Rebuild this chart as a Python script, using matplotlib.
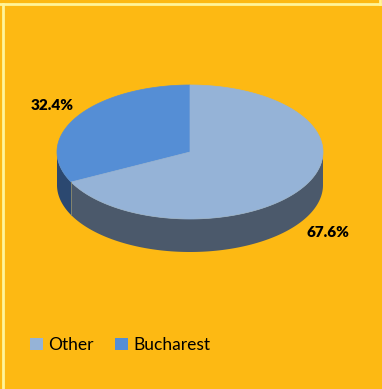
"""3D-style pie: share of Other vs Bucharest."""

import numpy as np
import matplotlib.pyplot as plt
from matplotlib.patches import Polygon, Patch
from matplotlib.lines import Line2D

categories = ["Other", "Bucharest"]
shares = [67.6, 32.4]
labels = ["67.6%", "32.4%"]

TOP_COLORS = {"Other": "#95B3D7", "Bucharest": "#558ED5"}
SIDE_COLORS = {"Other": "#4B596B", "Bucharest": "#2B4870"}
BG = "#FDB913"


def ellipse_pts(t1, t2, cx, cy, a, b, dy=0.0, n=200):
    t = np.linspace(t1, t2, n)
    return np.column_stack([cx + a * np.cos(t), cy - b * np.sin(t) + dy])


def main() -> None:
    W, H = 382, 389
    fig = plt.figure(figsize=(W / 100, H / 100), dpi=100, facecolor=BG)
    ax = fig.add_axes([0, 0, 1, 1])
    ax.set_xlim(0, W)
    ax.set_ylim(H, 0)
    ax.axis("off")

    # pale frame lines
    ax.add_line(Line2D([0, 380], [3.5, 3.5], color="#FFF59A", lw=2))
    ax.add_line(Line2D([380, 380], [0, 3.5], color="#FFF59A", lw=2))
    ax.add_line(Line2D([2.5, 2.5], [3.5, H], color="#FFF59A", lw=2))

    cx, cy, a, b, depth = 190, 152, 133, 67, 33

    # Bucharest starts at 12 o'clock and runs counter-clockwise
    start = np.pi / 2
    spans = {}
    order = ["Bucharest", "Other"]
    vals = dict(zip(categories, shares))
    total = sum(shares)
    for cat in order:
        ext = 2 * np.pi * vals[cat] / total
        spans[cat] = (start, start + ext)
        start += ext

    # side walls (only the front half is visible: pi..2pi)
    for cat in order:
        t1, t2 = spans[cat]
        lo, hi = max(t1, np.pi), min(t2, 2 * np.pi)
        if hi <= lo:
            continue
        top = ellipse_pts(lo, hi, cx, cy, a, b)
        bot = ellipse_pts(hi, lo, cx, cy, a, b, dy=depth)
        ax.add_patch(Polygon(np.vstack([top, bot]), closed=True,
                             facecolor=SIDE_COLORS[cat], edgecolor="none"))
    # thin seam between side segments
    t_seam = spans["Bucharest"][1]
    xs = cx + a * np.cos(t_seam)
    ys = cy - b * np.sin(t_seam)
    ax.add_line(Line2D([xs, xs], [ys, ys + depth], color="#8A8A70", lw=0.6))

    # top faces
    for cat in order:
        t1, t2 = spans[cat]
        arc = ellipse_pts(t1, t2, cx, cy, a, b)
        pts = np.vstack([[cx, cy], arc])
        ax.add_patch(Polygon(pts, closed=True, facecolor=TOP_COLORS[cat],
                             edgecolor=TOP_COLORS[cat], lw=0.5))

    # data labels
    lab = dict(zip(categories, labels))
    ax.text(52, 105, lab["Bucharest"], ha="center", va="center",
            fontsize=11, fontweight="heavy", family="Lato", color="black")
    ax.text(328, 232, lab["Other"], ha="center", va="center",
            fontsize=11, fontweight="heavy", family="Lato", color="black")

    handles = [Patch(facecolor=TOP_COLORS[c], edgecolor="none") for c in categories]
    ax.legend(handles, categories, loc="center left",
              bbox_to_anchor=(30 / W, 1 - 345 / H), ncol=2, frameon=False,
              prop={"family": "Lato", "size": 12.5},
              handlelength=0.75, handleheight=0.75, handletextpad=0.3,
              columnspacing=1.25, borderaxespad=0, borderpad=0)

    fig.savefig("out.png", dpi=100, facecolor=BG)


if __name__ == "__main__":
    main()
